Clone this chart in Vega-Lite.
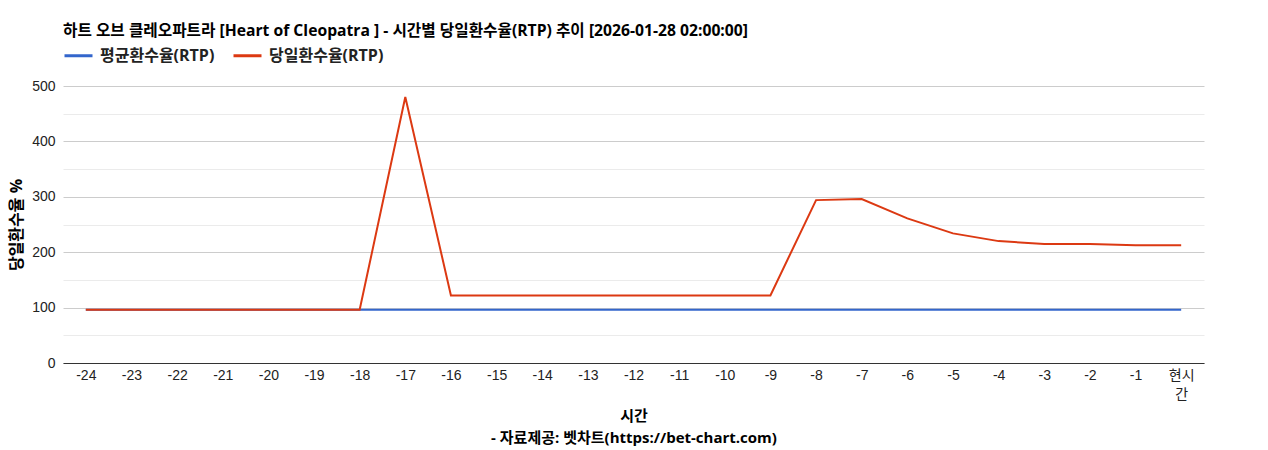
{
  "$schema": "https://vega.github.io/schema/vega-lite/v6.json",
  "width": 1141,
  "height": 277,
  "autosize": {"type": "none"},
  "padding": {"left": 63, "top": 86, "right": 64, "bottom": 87},
  "background": "white",
  "title": {
    "text": "하트 오브 클레오파트라 [Heart of Cleopatra ] - 시간별 당일환수율(RTP) 추이 [2026-01-28 02:00:00]",
    "anchor": "start",
    "frame": "group",
    "font": "Open Sans, Noto Sans CJK KR",
    "fontSize": 15.7,
    "fontWeight": "bold",
    "color": "#000000",
    "offset": 0
  },
  "data": {
    "values": [
      {"hour": "-24", "series": "평균환수율(RTP)", "rtp": 96},
      {"hour": "-23", "series": "평균환수율(RTP)", "rtp": 96},
      {"hour": "-22", "series": "평균환수율(RTP)", "rtp": 96},
      {"hour": "-21", "series": "평균환수율(RTP)", "rtp": 96},
      {"hour": "-20", "series": "평균환수율(RTP)", "rtp": 96},
      {"hour": "-19", "series": "평균환수율(RTP)", "rtp": 96},
      {"hour": "-18", "series": "평균환수율(RTP)", "rtp": 96},
      {"hour": "-17", "series": "평균환수율(RTP)", "rtp": 96},
      {"hour": "-16", "series": "평균환수율(RTP)", "rtp": 96},
      {"hour": "-15", "series": "평균환수율(RTP)", "rtp": 96},
      {"hour": "-14", "series": "평균환수율(RTP)", "rtp": 96},
      {"hour": "-13", "series": "평균환수율(RTP)", "rtp": 96},
      {"hour": "-12", "series": "평균환수율(RTP)", "rtp": 96},
      {"hour": "-11", "series": "평균환수율(RTP)", "rtp": 96},
      {"hour": "-10", "series": "평균환수율(RTP)", "rtp": 96},
      {"hour": "-9", "series": "평균환수율(RTP)", "rtp": 96},
      {"hour": "-8", "series": "평균환수율(RTP)", "rtp": 96},
      {"hour": "-7", "series": "평균환수율(RTP)", "rtp": 96},
      {"hour": "-6", "series": "평균환수율(RTP)", "rtp": 96},
      {"hour": "-5", "series": "평균환수율(RTP)", "rtp": 96},
      {"hour": "-4", "series": "평균환수율(RTP)", "rtp": 96},
      {"hour": "-3", "series": "평균환수율(RTP)", "rtp": 96},
      {"hour": "-2", "series": "평균환수율(RTP)", "rtp": 96},
      {"hour": "-1", "series": "평균환수율(RTP)", "rtp": 96},
      {"hour": "현시간", "series": "평균환수율(RTP)", "rtp": 96},
      {"hour": "-24", "series": "당일환수율(RTP)", "rtp": 96},
      {"hour": "-23", "series": "당일환수율(RTP)", "rtp": 96},
      {"hour": "-22", "series": "당일환수율(RTP)", "rtp": 96},
      {"hour": "-21", "series": "당일환수율(RTP)", "rtp": 96},
      {"hour": "-20", "series": "당일환수율(RTP)", "rtp": 96},
      {"hour": "-19", "series": "당일환수율(RTP)", "rtp": 96},
      {"hour": "-18", "series": "당일환수율(RTP)", "rtp": 96},
      {"hour": "-17", "series": "당일환수율(RTP)", "rtp": 480},
      {"hour": "-16", "series": "당일환수율(RTP)", "rtp": 122},
      {"hour": "-15", "series": "당일환수율(RTP)", "rtp": 122},
      {"hour": "-14", "series": "당일환수율(RTP)", "rtp": 122},
      {"hour": "-13", "series": "당일환수율(RTP)", "rtp": 122},
      {"hour": "-12", "series": "당일환수율(RTP)", "rtp": 122},
      {"hour": "-11", "series": "당일환수율(RTP)", "rtp": 122},
      {"hour": "-10", "series": "당일환수율(RTP)", "rtp": 122},
      {"hour": "-9", "series": "당일환수율(RTP)", "rtp": 122},
      {"hour": "-8", "series": "당일환수율(RTP)", "rtp": 294},
      {"hour": "-7", "series": "당일환수율(RTP)", "rtp": 296},
      {"hour": "-6", "series": "당일환수율(RTP)", "rtp": 261},
      {"hour": "-5", "series": "당일환수율(RTP)", "rtp": 234},
      {"hour": "-4", "series": "당일환수율(RTP)", "rtp": 220},
      {"hour": "-3", "series": "당일환수율(RTP)", "rtp": 215},
      {"hour": "-2", "series": "당일환수율(RTP)", "rtp": 215},
      {"hour": "-1", "series": "당일환수율(RTP)", "rtp": 212.5},
      {"hour": "현시간", "series": "당일환수율(RTP)", "rtp": 212.5}
    ]
  },
  "mark": {"type": "line", "strokeWidth": 2, "interpolate": "linear"},
  "encoding": {
    "x": {
      "field": "hour",
      "type": "ordinal",
      "sort": null,
      "scale": {"type": "point", "padding": 0.5},
      "axis": {
        "title": ["시간", "- 자료제공: 벳차트(https://bet-chart.com)"],
        "titleFont": "Open Sans, Noto Sans CJK KR",
        "titleFontWeight": "bold",
        "titleFontSize": 15,
        "titleColor": "#000000",
        "titlePadding": 7,
        "titleLineHeight": 22,
        "labelAngle": 0,
        "labelFontSize": 14,
        "labelColor": "#222222",
        "labelPadding": 5,
        "labelExpr": "datum.label == '현시간' ? ['현시', '간'] : datum.label",
        "labelLineHeight": 19,
        "ticks": false,
        "grid": false,
        "domainColor": "#333333",
        "domainWidth": 1
      }
    },
    "y": {
      "field": "rtp",
      "type": "quantitative",
      "scale": {"domain": [0, 500], "nice": false},
      "axis": {
        "title": "당일환수율 %",
        "titleFont": "Open Sans, Noto Sans CJK KR",
        "titleFontWeight": "bold",
        "titleFontSize": 16,
        "titleColor": "#000000",
        "titlePadding": 7,
        "values": [0, 50, 100, 150, 200, 250, 300, 350, 400, 450, 500],
        "labelExpr": "datum.value % 100 == 0 ? datum.label : ''",
        "labelFontSize": 14,
        "labelColor": "#222222",
        "labelPadding": 8,
        "ticks": false,
        "domain": false,
        "gridColor": {"condition": {"test": "datum.value % 100 == 0", "value": "#cccccc"}, "value": "#ebebeb"},
        "gridWidth": 1
      }
    },
    "color": {
      "field": "series",
      "type": "nominal",
      "scale": {
        "domain": ["평균환수율(RTP)", "당일환수율(RTP)"],
        "range": ["#3366cc", "#dc3912"]
      },
      "legend": {
        "title": null,
        "orient": "top",
        "direction": "horizontal",
        "symbolType": "stroke",
        "symbolStrokeWidth": 3,
        "symbolSize": 784,
        "labelFont": "Open Sans, Noto Sans CJK KR",
        "labelFontSize": 16,
        "labelFontWeight": "bold",
        "labelColor": "#222222",
        "labelOffset": 6,
        "columnPadding": 12,
        "offset": 22
      }
    }
  },
  "config": {
    "font": "Liberation Sans, Noto Sans CJK KR",
    "view": {"stroke": null}
  }
}
